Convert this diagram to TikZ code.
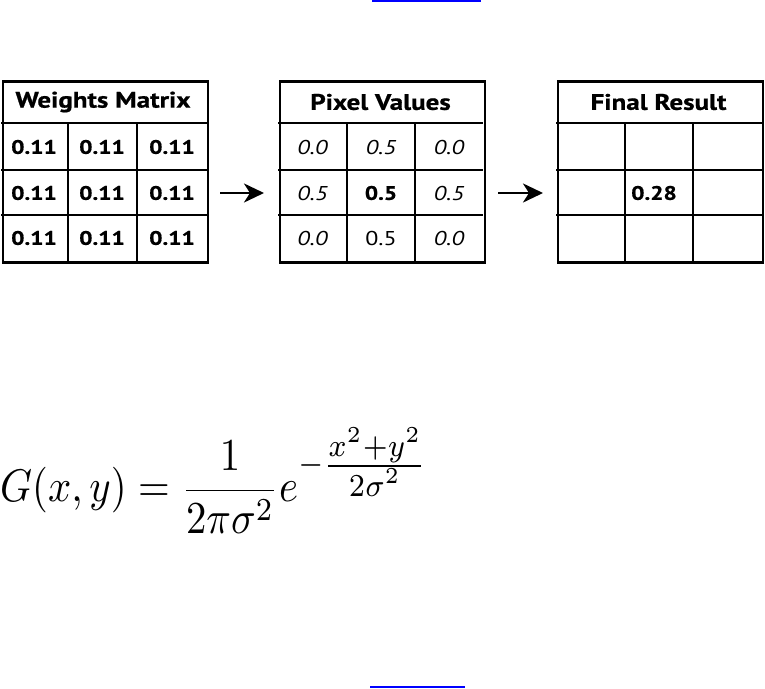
\documentclass[tikz,border=0pt]{standalone}
\usepackage{fontspec}
\newfontfamily\gill[FakeStretch=1.2,BoldFeatures={FakeBold=0.8}]{PT Sans}
\usetikzlibrary{arrows.meta}
\begin{document}
\begin{tikzpicture}[x=1pt,y=-1pt,
  frame/.style={draw=black,line width=2.8pt,inner sep=0pt,anchor=north west,minimum width=205pt,minimum height=181pt},
  gridline/.style={draw=black,line width=1.6pt},
  headline/.style={draw=black,line width=2.4pt},
  head/.style={font=\gill\bfseries\fontsize{22.5}{26}\selectfont,inner sep=0pt},
  bcell/.style={font=\gill\bfseries\fontsize{19.5}{24}\selectfont,inner sep=0pt},
  icell/.style={font=\gill\itshape\fontsize{20}{24}\selectfont,inner sep=0pt},
  rcell/.style={font=\gill\fontsize{20}{24}\selectfont,inner sep=0pt},
  flow/.style={draw=black,line width=2.6pt,-{Stealth[length=20pt,width=19pt,inset=6pt]}},
  link/.style={draw=blue,line width=1.6pt}]
\useasboundingbox (0,0) rectangle (765,688);
% ---------- Weights matrix ----------
\draw[gridline] (68,123) -- (68,261) (137,123) -- (137,261)
  (1,170) -- (207,170) (1,215) -- (207,215);
\draw[headline] (1,123) -- (207,123);
\node[frame] (W) at (1.5,80) {};
\node[head] (Wh) at (103,102) {Weights Matrix};
\foreach \r/\y in {1/147,2/193,3/238}{
  \foreach \c/\x in {1/34,2/102,3/172}{
    \node[bcell] (w\r\c) at (\x,\y) {0.11};
  }
}
% ---------- Pixel values ----------
\draw[gridline] (347,123) -- (347,261) (415,123) -- (415,261)
  (278,170) -- (483,170) (278,215) -- (483,215);
\draw[headline] (278,123) -- (483,123);
\node[frame] (P) at (278.5,80) {};
\node[head] (Ph) at (380.5,102) {Pixel Values};
\node[icell] (p11) at (312.5,147) {0.0};
\node[icell] (p12) at (381,147) {0.5};
\node[icell] (p13) at (449,147) {0.0};
\node[icell] (p21) at (312.5,193) {0.5};
\node[bcell] (p22) at (381,193) {0.5};
\node[icell] (p23) at (449,193) {0.5};
\node[icell] (p31) at (312.5,238) {0.0};
\node[rcell] (p32) at (381,238) {0.5};
\node[icell] (p33) at (449,238) {0.0};
% ---------- Final result ----------
\draw[gridline] (625,123) -- (625,261) (693,123) -- (693,261)
  (556,170) -- (762,170) (556,215) -- (762,215);
\draw[headline] (556,123) -- (762,123);
\node[frame] (F) at (556.5,80) {};
\node[head] (Fh) at (658.5,102) {Final Result};
\node[bcell] (f22) at (654,193) {0.28};
% ---------- arrows ----------
\coordinate (a1s) at (220,193);
\coordinate (a1e) at (264,193);
\coordinate (a2s) at (498,193);
\coordinate (a2e) at (543,193);
\draw[flow] (a1s) -- (a1e);
\draw[flow] (a2s) -- (a2e);
% ---------- formula ----------
\node[anchor=north west,inner sep=0pt] (eq) at (0,428)
  {\resizebox*{428pt}{105pt}{$\displaystyle G(x,y)=\frac{1}{2\pi\sigma^2}e^{-\frac{\scriptstyle x^2+y^2}{\scriptstyle 2\sigma^2}}$}};
% ---------- link underlines ----------
\coordinate (l1s) at (372,0.8);
\coordinate (l1e) at (481,0.8);
\coordinate (l2s) at (370,686.8);
\coordinate (l2e) at (465,686.8);
\draw[link] (l1s) -- (l1e);
\draw[link] (l2s) -- (l2e);
\end{tikzpicture}
\end{document}
